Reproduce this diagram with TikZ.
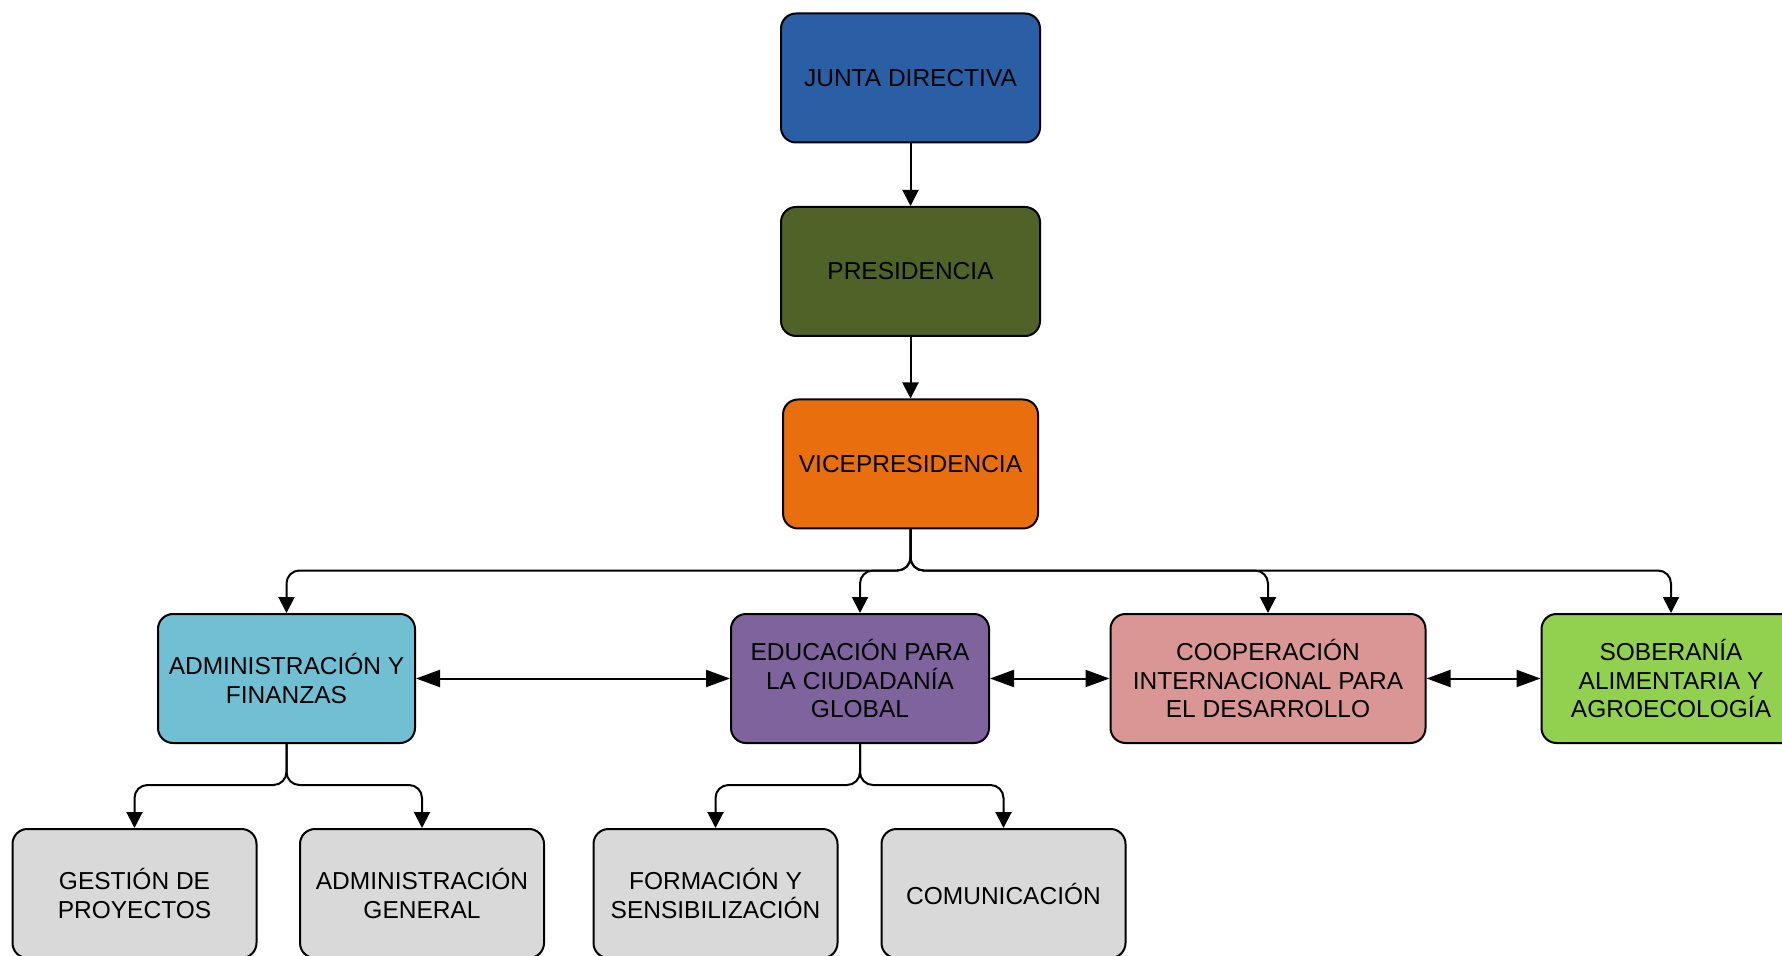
\documentclass[tikz,border=0pt]{standalone}
\usepackage{fontspec}
\setmainfont{Liberation Sans}
\usetikzlibrary{arrows.meta}
\definecolor{cjunta}{HTML}{2A5FA6}
\definecolor{cpres}{HTML}{4F6228}
\definecolor{cvice}{HTML}{E96F0E}
\definecolor{cadmin}{HTML}{70BFD3}
\definecolor{cedu}{HTML}{7F639D}
\definecolor{ccoop}{HTML}{DA9694}
\definecolor{csob}{HTML}{92D050}
\definecolor{cgris}{HTML}{D9D9D9}
\tikzset{
 box/.style={draw=black, line width=1pt, rounded corners=7.5pt, align=center,
   font=\fontsize{12.25}{14.25}\selectfont, minimum height=64.5pt, inner sep=2pt},
 conn/.style={line width=1pt, rounded corners=6.5pt, -{Triangle[length=8pt,width=8pt]}},
 dconn/.style={line width=1pt, {Triangle[length=12pt,width=8.5pt]}-{Triangle[length=12pt,width=8.5pt]}},
}
\begin{document}
\begin{tikzpicture}[x=0.5pt,y=-0.5pt]
\useasboundingbox (0,0) rectangle (1782,956);
\clip (0,0) rectangle (1782,956);
% level 0-2
\node[box, fill=cjunta, minimum width=129.5pt] (junta) at (910.5,78) {JUNTA DIRECTIVA};
\node[box, fill=cpres, minimum width=129.5pt] (pres) at (910.5,271.5) {PRESIDENCIA};
\node[box, fill=cvice, minimum width=127.5pt] (vice) at (910.5,464) {VICEPRESIDENCIA};
% level 3
\node[box, fill=cadmin, minimum width=128.5pt] (admin) at (286.5,678.5) {ADMINISTRACIÓN Y\\FINANZAS};
\node[box, fill=cedu, minimum width=129pt] (edu) at (860,678.5) {EDUCACIÓN PARA\\LA CIUDADANÍA\\GLOBAL};
\node[box, fill=ccoop, minimum width=157.5pt] (coop) at (1268,678.5) {COOPERACIÓN\\INTERNACIONAL PARA\\EL DESARROLLO};
\node[box, fill=csob, minimum width=129.5pt] (sob) at (1671,678.5) {SOBERANÍA\\ALIMENTARIA Y\\AGROECOLOGÍA};
% level 4
\node[box, fill=cgris, minimum width=122pt] (gest) at (134.5,893.5) {GESTIÓN DE\\PROYECTOS};
\node[box, fill=cgris, minimum width=122pt] (admg) at (422,893.5) {ADMINISTRACIÓN\\GENERAL};
\node[box, fill=cgris, minimum width=122pt] (form) at (715.5,893.5) {FORMACIÓN Y\\SENSIBILIZACIÓN};
\node[box, fill=cgris, minimum width=122pt] (com) at (1003.5,893.5) {COMUNICACIÓN};
% connectors
\draw[conn] (junta.south) -- (pres.north);
\draw[conn] (pres.south) -- (vice.north);
\draw[conn] (vice.south) -- ++(0,41) -| (admin.north);
\draw[conn] (vice.south) -- ++(0,41) -| (edu.north);
\draw[conn] (vice.south) -- ++(0,41) -| (coop.north);
\draw[conn] (vice.south) -- ++(0,41) -| (sob.north);
\draw[conn] (admin.south) -- ++(0,41) -| (gest.north);
\draw[conn] (admin.south) -- ++(0,41) -| (admg.north);
\draw[conn] (edu.south) -- ++(0,41) -| (form.north);
\draw[conn] (edu.south) -- ++(0,41) -| (com.north);
\draw[dconn] (admin.east) -- (edu.west);
\draw[dconn] (edu.east) -- (coop.west);
\draw[dconn] (coop.east) -- (sob.west);
\end{tikzpicture}
\end{document}
